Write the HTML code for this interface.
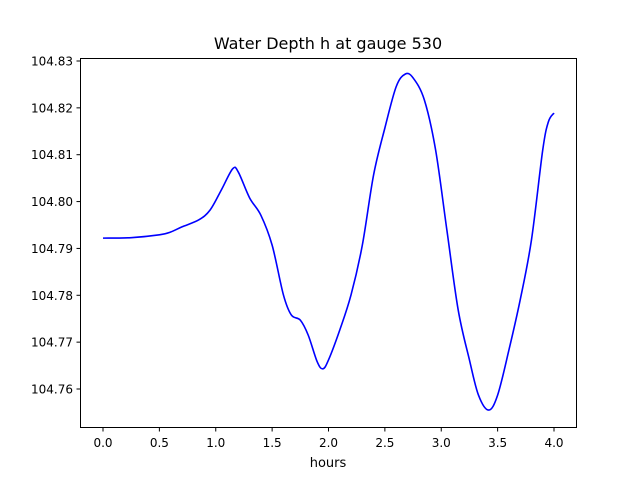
<!DOCTYPE html>
<html><head><meta charset="utf-8"><style>
body{margin:0;background:#fff;font-family:"Liberation Sans","DejaVu Sans",sans-serif}
</style></head><body>
<svg id="chart" width="640" height="480" xmlns="http://www.w3.org/2000/svg" font-family="DejaVu Sans, Liberation Sans, sans-serif">
<rect width="640" height="480" fill="#fff"/>
<text x="328" y="49" text-anchor="middle" font-size="16">Water Depth h at gauge 530</text>
<g id="ticks"></g>
<path id="line" fill="none" stroke="#0000ff" stroke-width="1.6"/>
<rect x="80.5" y="58.5" width="496" height="369" fill="none" stroke="#000" stroke-width="1"/>
<text x="328" y="467" text-anchor="middle" font-size="13">hours</text>
</svg>
<script>
const hours=[0,0.25,0.5,0.6,0.7,0.85,0.95,1.05,1.15,1.2,1.3,1.4,1.5,1.6,1.67,1.75,1.82,1.9,1.95,2.0,2.1,2.2,2.3,2.4,2.5,2.6,2.68,2.75,2.85,2.95,3.05,3.15,3.25,3.33,3.42,3.5,3.6,3.7,3.8,3.9,3.95,4.0];
const depth=[104.7922,104.7923,104.7929,104.7935,104.7946,104.7961,104.7982,104.8025,104.8070,104.8063,104.8008,104.7971,104.7907,104.7801,104.7758,104.7747,104.7715,104.7658,104.7643,104.7662,104.7726,104.7801,104.7907,104.8057,104.8157,104.8245,104.8272,104.8264,104.8217,104.8110,104.7939,104.7769,104.7662,104.7587,104.7555,104.7587,104.7683,104.7790,104.7918,104.8110,104.8170,104.8189];
const xTicks=["0.0","0.5","1.0","1.5","2.0","2.5","3.0","3.5","4.0"];
const yTicks=["104.76","104.77","104.78","104.79","104.80","104.81","104.82","104.83"];
const X=v=>103+v*112.75;
const Y=v=>61+(104.83-v)*4685.7;
const NS="http://www.w3.org/2000/svg";
const g=document.getElementById('ticks');
function mk(t,a){const e=document.createElementNS(NS,t);for(const k in a)e.setAttribute(k,a[k]);g.appendChild(e);return e;}
xTicks.forEach(t=>{const x=X(parseFloat(t));
const l=mk('line',{x1:x,x2:x,y1:427.5,y2:431.5,stroke:'#000'});


const s=mk('text',{x:x,y:447,'text-anchor':'middle','font-size':'12'});s.textContent=t;

});
yTicks.forEach(t=>{const y=Y(parseFloat(t));
const l=mk('line',{x1:76.5,x2:80.5,y1:y,y2:y,stroke:'#000'});


const s=mk('text',{x:73,y:y+4.5,'text-anchor':'end','font-size':'12'});s.textContent=t;

});
const p=hours.map((h,i)=>[X(h),Y(depth[i])]);
let d='M'+p[0][0]+','+p[0][1];
for(let i=0;i<p.length-1;i++){const p0=p[Math.max(0,i-1)],p1=p[i],p2=p[i+1],p3=p[Math.min(p.length-1,i+2)];
d+=' C'+(p1[0]+(p2[0]-p0[0])/6)+','+(p1[1]+(p2[1]-p0[1])/6)+' '+(p2[0]-(p3[0]-p1[0])/6)+','+(p2[1]-(p3[1]-p1[1])/6)+' '+p2[0]+','+p2[1];}
document.getElementById('line').setAttribute('d',d);
</script>
</body></html>
